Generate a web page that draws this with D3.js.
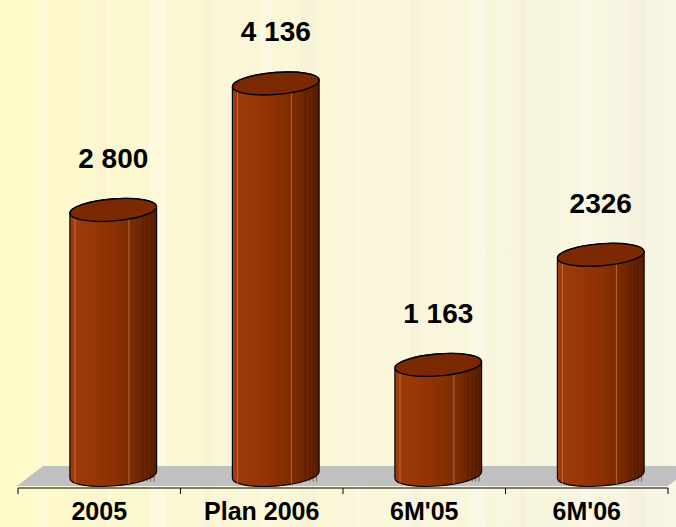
<!DOCTYPE html>
<html>
<head>
<meta charset="utf-8">
<script src="https://cdn.jsdelivr.net/npm/d3@7"></script>
<style>
  html, body { margin: 0; padding: 0; }
  body { width: 676px; height: 527px; overflow: hidden; }
</style>
</head>
<body>
<div id="chart"></div>
<script>
const categories = ['2005', 'Plan 2006', "6M'05", "6M'06"];
const values = [2800, 4136, 1163, 2326];
const valueLabels = ['2 800', '4 136', '1 163', '2326'];

const width = 676;
const height = 527;

const svg = d3.select('#chart')
  .append('svg')
  .attr('width', width)
  .attr('height', height);

const defs = svg.append('defs');

// background: pale yellow, a bit whiter on the right
const bg = defs.append('linearGradient').attr('id', 'bg')
  .attr('x1', 0).attr('x2', 1).attr('y1', 0).attr('y2', 0);
[[0, '#fffbc9'], [0.25, '#fcf7d3'], [0.55, '#faf6da'], [1, '#f7f5e3']].forEach(s => {
  bg.append('stop').attr('offset', s[0]).attr('stop-color', s[1]);
});
svg.append('rect').attr('width', width).attr('height', height).attr('fill', 'url(#bg)');

// soft vertical streaks
const streaks = [40, 95, 150, 205, 260, 300, 355, 410, 470, 520, 580, 630];
svg.selectAll('rect.streak')
  .data(streaks)
  .enter()
  .append('rect')
  .attr('class', 'streak')
  .attr('x', d => d)
  .attr('y', 0)
  .attr('width', (d, i) => 6 + (i % 3) * 5)
  .attr('height', height)
  .attr('fill', (d, i) => i % 2 ? '#f3e6d6' : '#ffffff')
  .attr('opacity', 0.25);

// cylinder gradient
const body = defs.append('linearGradient').attr('id', 'cyl')
  .attr('x1', 0).attr('x2', 1).attr('y1', 0).attr('y2', 0);
[[0, '#a13b0b'], [0.35, '#943405'], [0.7, '#7c2b02'], [1, '#5c1e00']].forEach(s => {
  body.append('stop').attr('offset', s[0]).attr('stop-color', s[1]);
});

const x = d3.scaleBand()
  .domain(categories)
  .range([18, 668])
  .padding(0);

const y = d3.scaleLinear()
  .domain([0, 4500])
  .range([475, 49]);

const depth = 26;        // 3d offset of the floor
const barW = x.bandwidth() * 0.535;
const rx = barW / 2;
const ry = 11;
const tilt = -4.5;       // degrees

// floor
const fx0 = x.range()[0] - 1, fx1 = x.range()[1];
const floorBottom = 486, floorTop = 466;
svg.append('polygon')
  .attr('points', [[fx0, floorBottom], [fx1, floorBottom], [fx1 + depth, floorTop], [fx0 + depth, floorTop]])
  .attr('fill', '#c0c0c0');

// axis line + ticks at band edges
const axisY = 488;
svg.append('line')
  .attr('x1', fx0 + 1).attr('x2', fx1)
  .attr('y1', axisY).attr('y2', axisY)
  .attr('stroke', '#000').attr('stroke-width', 1);

const edges = categories.map(c => x(c)).concat([x.range()[1]]);
svg.selectAll('line.tick')
  .data(edges)
  .enter()
  .append('line')
  .attr('class', 'tick')
  .attr('x1', d => d).attr('x2', d => d)
  .attr('y1', axisY).attr('y2', axisY + 6)
  .attr('stroke', '#000');

// tangent points of a tilted ellipse (where the sides of the cylinder touch)
const th = tilt * Math.PI / 180;
const t0 = Math.atan(-(ry / rx) * Math.tan(th));
function ellPoint(cx, cy, t) {
  return [
    cx + rx * Math.cos(t) * Math.cos(th) - ry * Math.sin(t) * Math.sin(th),
    cy + rx * Math.cos(t) * Math.sin(th) + ry * Math.sin(t) * Math.cos(th)
  ];
}

function cylinderPath(cx, yTop, yBot) {
  const rT = ellPoint(cx, yTop, t0), lT = ellPoint(cx, yTop, t0 + Math.PI);
  const rB = ellPoint(cx, yBot, t0), lB = ellPoint(cx, yBot, t0 + Math.PI);
  const L = lT[0] < rT[0] ? [lT, lB, rB, rT] : [rT, rB, lB, lT];
  return `M${L[0]}L${L[1]}A${rx},${ry} ${tilt} 0 0 ${L[2]}L${L[3]}A${rx},${ry} ${tilt} 0 0 ${L[0]}Z`;
}

const data = categories.map((c, i) => ({ cat: c, value: values[i], label: valueLabels[i] }));
const cxOf = d => x(d.cat) + x.bandwidth() / 2 + 14;

const bars = svg.selectAll('g.bar')
  .data(data)
  .enter()
  .append('g')
  .attr('class', 'bar');

bars.append('path')
  .attr('d', d => cylinderPath(cxOf(d), y(d.value), y(0)))
  .attr('fill', 'url(#cyl)')
  .attr('stroke', '#000')
  .attr('stroke-width', 1.2);

// facet lines on the body
const lightLines = [0.06, 0.68];
const darkLines = [0.84, 0.89, 0.93, 0.97];
bars.each(function(d) {
  const g = d3.select(this);
  const cx = cxOf(d);
  const left = cx - rx;
  lightLines.forEach(f => {
    g.append('line')
      .attr('x1', left + f * barW).attr('x2', left + f * barW)
      .attr('y1', y(d.value) + 4).attr('y2', y(0) + ry - 2)
      .attr('stroke', '#d28a5e').attr('stroke-width', 0.8).attr('opacity', 0.8);
  });
  darkLines.forEach(f => {
    g.append('line')
      .attr('x1', left + f * barW).attr('x2', left + f * barW)
      .attr('y1', y(d.value) + 2).attr('y2', y(0) + ry * 0.6)
      .attr('stroke', '#4a1800').attr('stroke-width', 0.8).attr('opacity', 0.7);
  });
});

// top caps
bars.append('ellipse')
  .attr('cx', d => cxOf(d))
  .attr('cy', d => y(d.value))
  .attr('rx', rx)
  .attr('ry', ry)
  .attr('transform', d => `rotate(${tilt}, ${cxOf(d)}, ${y(d.value)})`)
  .attr('fill', '#7a2902')
  .attr('stroke', '#000')
  .attr('stroke-width', 1.4);

// value labels
svg.selectAll('text.value')
  .data(data)
  .enter()
  .append('text')
  .attr('class', 'value')
  .attr('x', d => cxOf(d))
  .attr('y', d => y(d.value) - 42)
  .attr('text-anchor', 'middle')
  .style('font-family', 'Arial, "Liberation Sans", sans-serif')
  .style('font-weight', 'bold')
  .style('font-size', '28px')
  .style('fill', '#000')
  .text(d => d.label);

// category labels
svg.selectAll('text.cat')
  .data(categories)
  .enter()
  .append('text')
  .attr('class', 'cat')
  .attr('x', d => x(d) + x.bandwidth() / 2)
  .attr('y', 520)
  .attr('text-anchor', 'middle')
  .style('font-family', 'Arial, "Liberation Sans", sans-serif')
  .style('font-weight', 'bold')
  .style('font-size', '25px')
  .style('fill', '#000')
  .text(d => d);
</script>
</body>
</html>
